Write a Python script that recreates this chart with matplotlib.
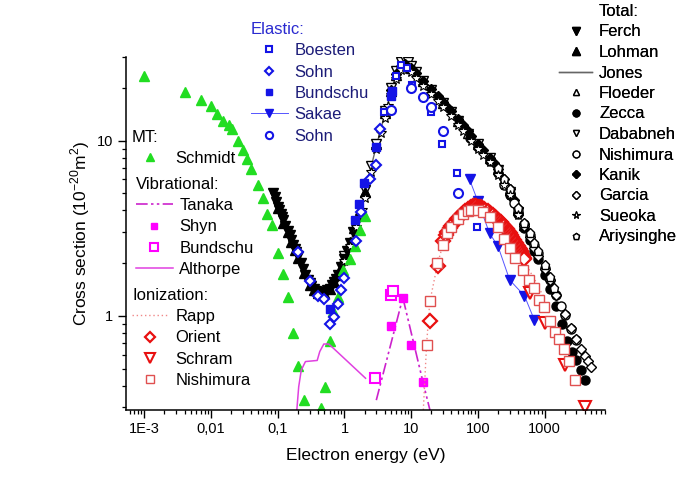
import numpy as np
import matplotlib
matplotlib.use('Agg')
import matplotlib.pyplot as plt
from matplotlib.lines import Line2D
from matplotlib.ticker import FixedLocator, FixedFormatter, LogLocator, NullFormatter

plt.rcParams['font.family'] = ['Liberation Sans', 'DejaVu Sans']

# ---- total cross sections (1e-20 m2) vs electron energy (eV)
ferch_e = [0.085, 0.09, 0.095, 0.1, 0.105, 0.11, 0.115, 0.12, 0.13, 0.14, 0.15, 0.16, 0.17, 0.18, 0.19, 0.2,
           0.22, 0.24, 0.26, 0.28, 0.3, 0.32, 0.35, 0.38, 0.4, 0.45, 0.5, 0.55, 0.6, 0.65, 0.7, 0.75, 0.8,
           0.9, 1.0, 1.1, 1.2, 1.35, 1.5]
ferch_s = [5.0, 4.75, 4.45, 4.2, 4.0, 3.8, 3.65, 3.5, 3.25, 3.05, 2.9, 2.72, 2.55, 2.42, 2.3, 2.2,
           2.0, 1.85, 1.72, 1.61, 1.53, 1.47, 1.42, 1.38, 1.37, 1.36, 1.37, 1.4, 1.43, 1.49, 1.55, 1.62, 1.7,
           1.9, 2.1, 2.35, 2.6, 3.0, 3.4]
lohman_e = [0.1, 0.12, 0.14, 0.16, 0.18, 0.2, 0.25, 0.3, 0.35, 0.4, 0.5, 0.6, 0.7, 0.8, 0.9, 1.0, 1.2, 1.4, 1.7, 2.0]
lohman_s = [4.1, 3.4, 3.0, 2.65, 2.38, 2.15, 1.75, 1.5, 1.4, 1.35, 1.35, 1.42, 1.55, 1.7, 1.9, 2.12, 2.65, 3.15, 4.0, 5.1]
jones_e = [0.6, 0.8, 1.0, 1.5, 2.0, 3.0, 4.0, 5.0, 6.0, 7.0, 8.0, 9.0, 10.0, 15.0, 20.0, 30.0, 40.0, 50.0]
jones_s = [1.43, 1.7, 2.1, 3.3, 5.0, 9.3, 14.0, 19.0, 23.5, 26.0, 27.0, 26.5, 25.5, 21.5, 19.2, 16.2, 14.5, 12.8]
floeder_e = [1.0, 1.5, 2.0, 3.0, 4.0, 5.0, 6.0, 7.0, 8.0, 10.0, 15.0, 20.0, 30.0, 50.0, 70.0, 100.0, 150.0,
             200.0, 300.0, 400.0, 500.0]
floeder_s = [2.15, 3.35, 5.1, 9.5, 14.3, 19.3, 23.8, 26.5, 27.6, 25.8, 21.8, 19.4, 16.4, 13.0, 11.1, 9.6, 8.0,
             6.9, 5.2, 4.0, 3.3]
zecca_e = [75, 100, 150, 200, 300, 400, 500, 600, 700, 800, 1000, 1200, 1500, 1800, 2200, 2600, 3000, 3500, 4000]
zecca_s = [10.4, 9.2, 7.6, 6.5, 4.9, 3.8, 3.15, 2.7, 2.35, 2.1, 1.7, 1.42, 1.13, 0.9, 0.72, 0.62, 0.56, 0.49, 0.43]
dababneh_e = [1.0, 1.5, 2.0, 2.5, 3.0, 4.0, 5.0, 6.0, 7.0, 8.0, 9.0, 10.0, 12.0, 15.0, 20.0, 30.0, 40.0, 50.0,
              70.0, 100.0, 150.0, 200.0, 300.0, 400.0]
dababneh_s = [2.2, 3.4, 5.2, 7.2, 9.6, 14.8, 20.0, 25.0, 28.0, 29.0, 28.2, 26.8, 24.6, 22.0, 19.5, 16.4, 14.6, 13.0,
              10.9, 9.5, 7.9, 6.8, 5.1, 3.9]
nishi_tot_e = [250, 300, 350, 400, 500, 600, 700, 800, 1000, 1200, 1500, 1750, 2000, 2500, 3000]
nishi_tot_s = [5.6, 5.0, 4.4, 3.95, 3.35, 2.9, 2.55, 2.28, 1.88, 1.6, 1.32, 1.14, 1.01, 0.84, 0.73]
kanik_e = [5, 6, 7, 8, 10, 12, 15, 20, 25, 30, 35, 40, 50, 60, 70, 80, 100, 120, 150, 175, 200, 250, 300, 350, 400, 500]
kanik_s = [19.5, 24.0, 26.5, 27.2, 25.8, 24.2, 22.0, 19.6, 18.0, 16.6, 15.6, 14.8, 13.2, 12.2, 11.3, 10.6, 9.6, 8.8,
           8.0, 7.4, 6.9, 6.0, 5.3, 4.6, 4.1, 3.35]
garcia_e = [400, 500, 600, 700, 800, 1000, 1200, 1500, 2000, 2500, 3000, 3500, 4000, 4500, 5000]
garcia_s = [3.85, 3.25, 2.8, 2.45, 2.2, 1.85, 1.6, 1.32, 1.03, 0.85, 0.74, 0.65, 0.59, 0.55, 0.51]
sueoka_e = [1.0, 1.2, 1.5, 1.8, 2.0, 2.5, 3.0, 3.5, 4.0, 4.5, 5.0, 6.0, 7.0, 8.0, 9.0, 10.0, 12.0, 15.0, 20.0,
            25.0, 30.0, 40.0, 50.0, 60.0, 80.0, 100.0, 120.0, 150.0, 200.0, 250.0, 300.0, 400.0]
sueoka_s = [2.05, 2.5, 3.2, 4.0, 4.7, 6.6, 8.9, 11.0, 13.4, 15.8, 18.2, 22.6, 25.2, 26.2, 25.6, 24.6, 22.8, 20.6, 18.4,
            16.8, 15.5, 13.8, 12.3, 11.4, 10.0, 9.0, 8.3, 7.5, 6.4, 5.6, 4.9, 3.75]
ariy_e = [200, 250, 300, 400, 500, 600, 700, 800, 1000, 1200, 1400]
ariy_s = [7.0, 6.0, 5.3, 4.1, 3.4, 2.95, 2.6, 2.35, 1.95, 1.66, 1.45]

# ---- momentum transfer
schmidt_e = [0.001, 0.0041, 0.0071, 0.01, 0.0124, 0.0153, 0.0185, 0.0204, 0.0252, 0.0306, 0.0344, 0.040, 0.0504,
             0.061, 0.069, 0.082, 0.1, 0.12, 0.142, 0.169, 0.2, 0.244, 0.45, 0.506, 0.60, 0.676, 0.80, 0.955,
             1.2, 1.46, 1.7, 2.02]
schmidt_s = [23.3, 19.0, 17.1, 15.7, 14.1, 12.9, 12.2, 11.6, 10.0, 8.8, 7.86, 6.9, 5.6,
             4.7, 3.83, 3.31, 2.28, 1.74, 1.28, 0.80, 0.52, 0.33, 0.297, 0.39, 0.72, 1.07, 1.28, 1.83,
             2.11, 2.51, 3.07, 3.73]

# ---- elastic
boesten_e = [3.9, 5.85, 7.0, 8.75, 10.4, 19.6, 29.4, 48.0, 96.0]
boesten_s = [14.5, 23.3, 27.0, 26.0, 20.7, 14.5, 9.5, 6.5, 3.2]
sohn_d_e = [0.2, 0.3, 0.4, 0.5, 0.6, 0.7, 0.8, 0.9, 1.0, 1.5, 1.75, 2.45, 3.0, 3.4]
sohn_d_s = [2.3, 1.57, 1.30, 1.24, 0.90, 0.98, 1.16, 1.41, 1.64, 2.66, 3.9, 6.0, 7.3, 11.6]
bundschu_el_e = [0.6, 1.43, 1.64, 1.95, 3.0, 4.9, 5.2]
bundschu_el_s = [1.09, 3.54, 4.37, 5.73, 9.2, 17.9, 19.1]
sakae_e = [75, 100, 150, 200, 300, 500, 700]
sakae_s = [6.0, 4.5, 2.95, 2.5, 1.6, 1.3, 0.95]
sohn_c_e = [5, 10, 15, 20, 30, 50]
sohn_c_s = [14.9, 20.0, 17.7, 15.5, 11.3, 5.0]

# ---- vibrational
tanaka_e = [3.0, 7.5, 15.0, 20.0]
tanaka_s = [0.33, 1.27, 0.42, 0.27]
shyn_e = [5.0, 7.5, 10.0, 15.0]
shyn_s = [0.88, 1.26, 0.68, 0.42]
bundschu_vib_e = [2.9, 4.9, 5.4]
bundschu_vib_s = [0.44, 1.32, 1.38]
althorpe_e = [0.19, 0.206, 0.225, 0.26, 0.39, 0.426, 0.49, 0.58, 0.69, 2.07]
althorpe_s = [0.27, 0.394, 0.49, 0.548, 0.556, 0.625, 0.69, 0.69, 0.65, 0.44]

# ---- ionization
rapp_e = [15.0, 17, 19, 25, 30, 35, 40, 50, 60, 75, 100, 150, 200, 300, 400, 500, 600, 750, 1000]
rapp_s = [0.26, 0.68, 1.2, 2.0, 2.55, 2.95, 3.2, 3.55, 3.8, 4.0, 4.05, 3.75, 3.35, 2.75, 2.35, 2.05, 1.8, 1.55, 1.25]
orient_e = [19, 25, 30, 33, 35, 38, 40, 43, 45, 48, 50, 55, 60, 65, 70, 75, 80, 85, 90, 95, 100, 105, 110, 115,
            120, 125, 130, 140, 150, 160, 170, 180, 190, 200, 210, 220, 230, 240, 250, 260, 270, 280, 290, 300,
            315, 325, 340, 350, 365, 375, 390, 400, 415, 425, 440, 450, 465, 475, 490, 500]
orient_s = [0.93, 1.93, 2.68, 2.88, 3.0, 3.16, 3.25, 3.36, 3.45, 3.55, 3.62, 3.76, 3.88, 3.98, 4.08, 4.14, 4.18,
            4.21, 4.22, 4.22, 4.2, 4.18, 4.15, 4.12, 4.08, 4.05, 4.02, 3.95, 3.88, 3.82, 3.75, 3.68, 3.6, 3.53,
            3.48, 3.42, 3.36, 3.3, 3.24, 3.18, 3.12, 3.06, 3.0, 2.95, 2.88, 2.83, 2.76, 2.72, 2.65, 2.6, 2.54,
            2.5, 2.44, 2.4, 2.34, 2.3, 2.24, 2.2, 2.14, 2.1]
schram_e = [600, 1000, 2000, 4000]
schram_s = [1.35, 0.91, 0.525, 0.30]
nishi_ion_e = [17.1, 19.2, 24.8, 30.5, 34, 40, 50, 60, 70, 80, 100, 120, 150, 200, 250, 300, 364, 470, 592, 687,
               836, 967, 1217, 1438, 1670, 1932, 2345, 2880]
nishi_ion_s = [0.68, 1.21, 2.0, 2.52, 2.97, 3.2, 3.55, 3.8, 3.95, 4.0, 4.0, 3.9, 3.65, 3.2, 2.75, 2.45, 2.14, 1.83,
               1.61, 1.44, 1.23, 1.12, 0.93, 0.81, 0.74, 0.65, 0.55, 0.43]

xticks = [1e-3, 1e-2, 1e-1, 1, 10, 100, 1000]
xtick_labels = ['1E-3', '0,01', '0,1', '1', '10', '100', '1000']
yticks = [1, 10]
ytick_labels = ['1', '10']

GREEN = '#22dd22'
BLUE = '#1414e6'
MAG = '#ff00ff'
RED = '#e81010'
LRED = '#e05050'

fig = plt.figure(figsize=(7.0, 4.91), dpi=100)
ax = fig.add_axes([0.18, 0.165, 0.684, 0.719])


def pts(e, s, marker, face, edge, ms=6, mew=1.0, **kw):
    return ax.plot(e, s, ls='none', marker=marker, mfc=face, mec=edge, ms=ms, mew=mew, **kw)[0]


# total
h_jones, = ax.plot(jones_e, jones_s, color='#666666', lw=1.0)
h_floeder = pts(floeder_e, floeder_s, '^', 'white', 'k', ms=6.5)
h_dababneh = pts(dababneh_e, dababneh_s, 'v', 'white', 'k', ms=6.5)
h_ferch = pts(ferch_e, ferch_s, 'v', 'k', 'k', ms=7)
h_lohman = pts(lohman_e, lohman_s, '^', 'k', 'k', ms=7)
h_kanik = pts(kanik_e, kanik_s, 'D', 'k', 'k', ms=5.5)
h_zecca = pts(zecca_e, zecca_s, 'o', 'k', 'k', ms=6.5)
h_nishi = pts(nishi_tot_e, nishi_tot_s, 'o', 'white', 'k', ms=6.5)
h_garcia = pts(garcia_e, garcia_s, 'D', 'white', 'k', ms=5.5)
h_ariy = pts(ariy_e, ariy_s, 'p', 'white', 'k', ms=6.5)
h_sueoka = pts(sueoka_e, sueoka_s, '*', 'white', 'k', ms=7.5, mew=0.8)

# MT
h_schmidt = pts(schmidt_e, schmidt_s, '^', GREEN, GREEN, ms=6.5)

# elastic
h_boesten = pts(boesten_e, boesten_s, 's', 'white', BLUE, ms=5, mew=1.5)
h_sohn_d = pts(sohn_d_e, sohn_d_s, 'D', 'white', BLUE, ms=5.5, mew=1.5)
h_bund_el = pts(bundschu_el_e, bundschu_el_s, 's', BLUE, BLUE, ms=6)
h_sakae, = ax.plot(sakae_e, sakae_s, color='#5555ff', lw=0.7, marker='v', mfc=BLUE, mec=BLUE, ms=7)
h_sohn_c = pts(sohn_c_e, sohn_c_s, 'o', 'white', BLUE, ms=6.5, mew=1.5)

# vibrational
h_tanaka, = ax.plot(tanaka_e, tanaka_s, color='#cc22cc', lw=1.2, dashes=(7, 2, 1.5, 2, 1.5, 2))
h_shyn = pts(shyn_e, shyn_s, 's', MAG, MAG, ms=6)
h_bund_vib = pts(bundschu_vib_e, bundschu_vib_s, 's', 'white', MAG, ms=6.5, mew=1.5)
h_althorpe, = ax.plot(althorpe_e, althorpe_s, color='#e040e0', lw=1.1)

# ionization
h_rapp, = ax.plot(rapp_e, rapp_s, color='#f08888', lw=1.0, ls=(0, (1, 2)))
h_orient = pts(orient_e, orient_s, 'D', 'white', RED, ms=7, mew=1.6)
h_schram = pts(schram_e, schram_s, 'v', 'white', RED, ms=8.5, mew=1.5)
h_nishi_ion = pts(nishi_ion_e, nishi_ion_s, 's', 'white', LRED, ms=7.5, mew=1.0)

ax.set_xscale('log')
ax.set_yscale('log')
ax.set_xlim(5.3e-4, 8000)
ax.set_ylim(0.29, 30)

ax.xaxis.set_major_locator(FixedLocator(xticks))
ax.xaxis.set_major_formatter(FixedFormatter(xtick_labels))
ax.xaxis.set_minor_locator(LogLocator(base=10, subs=np.arange(2, 10), numticks=30))
ax.xaxis.set_minor_formatter(NullFormatter())
ax.yaxis.set_major_locator(FixedLocator(yticks))
ax.yaxis.set_major_formatter(FixedFormatter(ytick_labels))
ax.yaxis.set_minor_locator(LogLocator(base=10, subs=np.arange(2, 10), numticks=30))
ax.yaxis.set_minor_formatter(NullFormatter())

ax.tick_params(which='major', direction='out', length=6, width=1.0, labelsize=10.5, pad=3)
ax.tick_params(which='minor', direction='out', length=3, width=0.9)
for side in ['top', 'right']:
    ax.spines[side].set_visible(False)
for side in ['left', 'bottom']:
    ax.spines[side].set_linewidth(1.1)

ax.set_xlabel('Electron energy (eV)', fontsize=12.5, labelpad=8)
ax.set_ylabel(r'Cross section (10$^{\mathregular{-20}}$m$^{\mathregular{2}}$)', fontsize=12.5, labelpad=4)


def add_legend(handles, labels, x_px, y_px, title=None, hl=2.2, color='black', ms=0.8, sp=0.37):
    leg = ax.legend(handles, labels, loc='upper left', bbox_to_anchor=(x_px / 700, 1 - y_px / 491),
                    bbox_transform=fig.transFigure, frameon=False, borderpad=0, borderaxespad=0,
                    fontsize=12, title=title, title_fontsize=12, alignment='left', handlelength=hl,
                    handletextpad=0.4, labelspacing=sp, numpoints=1, markerscale=ms, labelcolor=color)
    ax.add_artist(leg)
    return leg


leg_el = add_legend([h_boesten, h_sohn_d, h_bund_el, h_sakae, h_sohn_c],
                    ['Boesten', 'Sohn', 'Bundschu', 'Sakae', 'Sohn'], 251, 22, title='Elastic:',
                    color='#1c1c78', sp=0.38)
leg_el.get_title().set_color('#2a2ad0')
add_legend([h_schmidt], ['Schmidt'], 132, 130, title='MT:')
add_legend([h_tanaka, h_shyn, h_bund_vib, h_althorpe], ['Tanaka', 'Shyn', 'Bundschu', 'Althorpe'],
           136, 177, title='Vibrational:')
add_legend([h_rapp, h_orient, h_schram, h_nishi_ion], ['Rapp', 'Orient', 'Schram', 'Nishimura'],
           132, 288, title='Ionization:')
blank = Line2D([], [], ls='none')
add_legend([blank, h_ferch, h_lohman, h_jones, h_floeder, h_zecca, h_dababneh, h_nishi, h_kanik, h_garcia,
            h_sueoka, h_ariy],
           ['Total:', 'Ferch', 'Lohman', 'Jones', 'Floeder', 'Zecca', 'Dababneh', 'Nishimura', 'Kanik',
            'Garcia', 'Sueoka', 'Ariysinghe'], 559, 4, hl=2.0, ms=0.75, sp=0.33)

fig.savefig('out.png', dpi=100)
